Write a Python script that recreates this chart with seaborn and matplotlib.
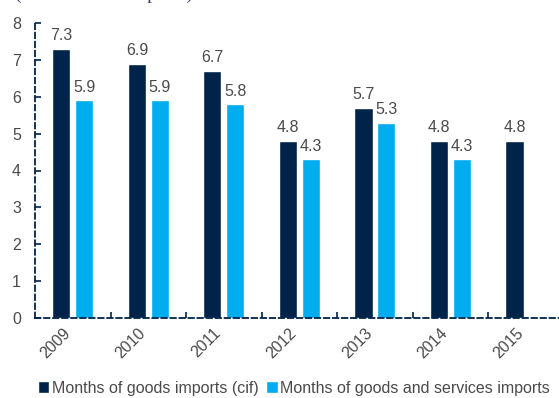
import matplotlib
matplotlib.use("Agg")
import matplotlib.pyplot as plt
import matplotlib.transforms as mtransforms
import seaborn as sns
import pandas as pd
import numpy as np

years = ["2009", "2010", "2011", "2012", "2013", "2014", "2015"]
goods_cif = [7.3, 6.9, 6.7, 4.8, 5.7, 4.8, 4.8]
goods_services = [5.9, 5.9, 5.8, 4.3, 5.3, 4.3, np.nan]
series_names = ["Months of goods imports (cif)", "Months of goods and services imports"]
colors = ["#00234A", "#00AEEF"]

sns.set_theme(style="white")
plt.rcParams['font.family'] = ['Liberation Sans', 'DejaVu Sans']

df = pd.DataFrame({
    "year": years * 2,
    "value": goods_cif + goods_services,
    "series": [series_names[0]] * len(years) + [series_names[1]] * len(years),
})

fig = plt.figure(figsize=(5.59, 3.98), dpi=100)
ax = fig.add_axes([35/559, 80/398, 1 - 35/559, (318-23)/398])

sns.barplot(data=df, x="year", y="value", hue="series", palette=colors,
            width=0.6, gap=0.2, ax=ax, saturation=1, legend=True)

ax.set_ylim(0, 8)
ax.set_xlim(-0.5, 6.44)
ax.set_xlabel("")
ax.set_ylabel("")
ax.set_yticks(range(0, 9))

txtc = "#4A4A4A"
for cont in ax.containers:
    for bar in cont:
        h = bar.get_height()
        if np.isnan(h) or h == 0:
            continue
        ax.text(bar.get_x() + bar.get_width()/2, h + 0.15, f"{h:.1f}",
                ha="center", va="bottom", fontsize=11.5, color=txtc)

for s in ["top", "right"]:
    ax.spines[s].set_visible(False)
for s in ["left", "bottom"]:
    ax.spines[s].set_color("#00234A")
    ax.spines[s].set_linewidth(1.3)
    ax.spines[s].set_linestyle((0, (3, 2)))

ax.tick_params(axis="y", direction="in", length=4, width=1.2, color="#00234A",
               labelsize=11.5, labelcolor=txtc, left=True, pad=10)
ax.tick_params(axis="x", which="major", length=0, labelsize=11.5, labelcolor=txtc, pad=9)
ax.set_xticks(np.arange(0.5, 6.5, 1), minor=True)
ax.tick_params(axis="x", which="minor", direction="in", length=4, width=1.2,
               color="#00234A", bottom=True)
offset = mtransforms.ScaledTranslation(-5/100, 0, fig.dpi_scale_trans)
for lab in ax.get_xticklabels():
    lab.set_rotation(45)
    lab.set_ha("right")
    lab.set_va("center")
    lab.set_rotation_mode("anchor")
    lab.set_transform(lab.get_transform() + offset)

leg = ax.legend(loc="center", bbox_to_anchor=(0.5 - 3/524, -(388 - 318)/295),
                bbox_transform=ax.transAxes, ncol=2, frameon=False,
                fontsize=11.5, handlelength=0.7, handleheight=0.7,
                handletextpad=0.15, columnspacing=0.5, borderaxespad=0)
for t in leg.get_texts():
    t.set_color(txtc)

fig.text(15/559, 1 + 1/398, "(In months of imports)", family="Liberation Serif",
         fontsize=14, color="#3A3F6A", ha="left", va="baseline")

fig.savefig("out.png", dpi=100)
